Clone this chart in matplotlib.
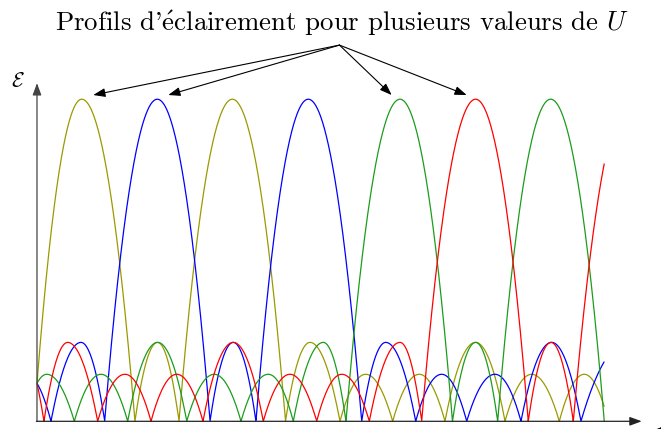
import numpy as np
import matplotlib.pyplot as plt

plt.rcParams['mathtext.fontset'] = 'cm'

# Lobes: X runs 0..10 over the drawn range,
# E is normalised so that the principal maxima are 1.
# Each lobe k sits between zeros[k] and zeros[k+1] and peaks at (peak_x[k], peak_e[k]).
olive_zeros = [-0.051, 1.727, 2.503, 4.380, 5.341, 6.270, 7.192, 8.250, 9.207, 10.071]
olive_peak_x = [0.788, 2.124, 3.443, 4.812, 5.794, 6.739, 7.730, 8.720, 9.648]
olive_peak_e = [1.0, 0.245, 1.0, 0.245, 0.146, 0.146, 0.245, 0.146, 0.146]

blue_zeros = [-0.631, 0.247, 1.193, 3.050, 3.860, 5.724, 6.676, 7.575, 8.532, 9.589, 11.211]
blue_peak_x = [-0.192, 0.776, 2.121, 3.460, 4.782, 6.147, 7.134, 8.073, 9.073, 10.400]
blue_peak_e = [0.146, 0.245, 1.0, 0.245, 1.0, 0.245, 0.146, 0.146, 0.245, 0.245]

green_zeros = [-0.219, 0.658, 1.599, 2.639, 3.596, 4.518, 5.447, 7.324, 8.121, 10.000]
green_peak_x = [0.171, 1.128, 2.128, 3.125, 4.077, 5.047, 6.399, 7.733, 9.055]
green_peak_e = [0.146, 0.146, 0.245, 0.146, 0.146, 0.245, 1.0, 0.245, 1.0]

red_zeros = [-0.758, 0.123, 1.070, 2.010, 2.926, 3.989, 4.930, 5.858, 6.781, 8.660, 9.454, 11.428]
red_peak_x = [-0.317, 0.541, 1.551, 2.463, 3.460, 4.460, 5.371, 6.399, 7.733, 9.060, 10.441]
red_peak_e = [0.245, 0.245, 0.146, 0.146, 0.245, 0.146, 0.146, 0.245, 1.0, 0.245, 1.0]

x_max = 10.0


def profile(x, zeros, peak_x, peak_e):
    # one arch per lobe, rounded at the top, pointed where it touches zero
    e = np.zeros_like(x)
    for z0, z1, px, h in zip(zeros[:-1], zeros[1:], peak_x, peak_e):
        up = (x >= z0) & (x < px)
        down = (x >= px) & (x <= z1)
        s = (x[up] - z0) / (px - z0)
        e[up] = h * s * (2 - s)
        s = (z1 - x[down]) / (z1 - px)
        e[down] = h * s * (2 - s)
    return e


fig = plt.figure(figsize=(6.61, 4.30), dpi=100)
ax = fig.add_axes([0, 0, 1, 1])
ax.set_xlim(-0.652, 11.0)
ax.set_ylim(-0.027, 1.308)
ax.axis('off')

x = np.linspace(0, x_max, 3000)
curves = [
    (olive_zeros, olive_peak_x, olive_peak_e, '#9a9a00'),
    (blue_zeros, blue_peak_x, blue_peak_e, '#0000ff'),
    (green_zeros, green_peak_x, green_peak_e, '#1c9c1c'),
    (red_zeros, red_peak_x, red_peak_e, '#ff0000'),
]
for zeros, px, pe, col in curves:
    ax.plot(x, profile(x, zeros, px, pe), color=col, lw=0.9, solid_capstyle='butt')

# axes with arrow heads
ax.annotate('', xy=(0, 1.05), xytext=(0, 0),
            arrowprops=dict(arrowstyle='-|>,head_length=0.6,head_width=0.22',
                            mutation_scale=12, lw=0.9, color='#444444',
                            shrinkA=0, shrinkB=0))
ax.annotate('', xy=(10.66, 0), xytext=(-0.01, 0),
            arrowprops=dict(arrowstyle='-|>,head_length=0.6,head_width=0.22',
                            mutation_scale=12, lw=0.9, color='#222222',
                            shrinkA=0, shrinkB=0))
ax.text(-0.335, 1.055, r'$\mathcal{E}$', fontsize=15, ha='center', va='center')
ax.text(10.92, -0.005, r'$X$', fontsize=15, ha='left', va='center')

# arrows from the title to one principal maximum of each curve
src = (5.332, 1.168)
for tx in [0.992, 2.314, 6.252, 7.574]:
    ax.annotate('', xy=(tx, 1.013), xytext=src,
                arrowprops=dict(arrowstyle='-|>,head_length=0.6,head_width=0.22',
                                mutation_scale=12, lw=0.8, color='black',
                                shrinkA=0, shrinkB=0))

fig.text(0.518, 1 - 31 / 430, "Profils d'" + r"$\acute{\mathrm{e}}$" + "clairement pour plusieurs valeurs de $U$",
         fontsize=19.3, family='cmr10', ha='center', va='baseline')

fig.savefig('out.png', dpi=100)
